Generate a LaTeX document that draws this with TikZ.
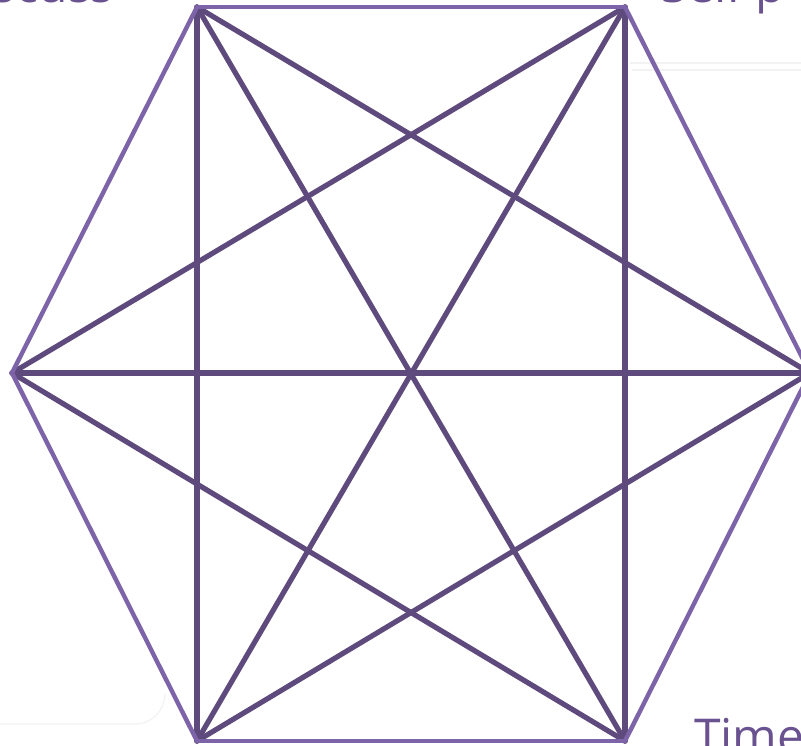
\documentclass[tikz,border=0pt]{standalone}
\usepackage{fontspec}
\setmainfont{Open Sans}
\begin{document}
\begin{tikzpicture}[x=1pt,y=-1pt,
  outeredge/.style={draw=hexlight,line width=4.4pt,line cap=round},
  inneredge/.style={draw=hexdark,line width=5.2pt,line cap=round},
  lbl/.style={text=labelc,font=\fontsize{48}{48}\selectfont,inner sep=0pt},
  faint/.style={draw=black!5,line width=1.2pt}]
\definecolor{hexlight}{HTML}{7D63A8}
\definecolor{hexdark}{HTML}{5E4A7C}
\definecolor{labelc}{HTML}{6A5290}
\useasboundingbox (0,0) rectangle (801,745);
\fill[white] (0,0) rectangle (801,745);
% faint background traces
\draw[faint] (630,63) -- (801,63);
\draw[faint] (632,70) -- (801,70);
\draw[faint] (0,724) -- (135,724) arc[start angle=90,end angle=0,radius=30];
% vertices
\coordinate (TL) at (197,7);
\coordinate (TR) at (625,7);
\coordinate (R) at (810,373);
\coordinate (BR) at (625,741);
\coordinate (BL) at (197,741);
\coordinate (L) at (12,373);
% inner chords
\draw[inneredge] (TL) -- (BL);
\draw[inneredge] (TR) -- (BR);
\draw[inneredge] (L) -- (R);
\draw[inneredge] (TL) -- (BR);
\draw[inneredge] (TR) -- (BL);
\draw[inneredge] (TL) -- (R);
\draw[inneredge] (TR) -- (L);
\draw[inneredge] (BL) -- (R);
\draw[inneredge] (BR) -- (L);
% hexagon outline
\draw[outeredge] (TL) -- (TR);
\draw[outeredge] (TR) -- (R);
\draw[outeredge] (R) -- (BR);
\draw[outeredge] (BR) -- (BL);
\draw[outeredge] (BL) -- (L);
\draw[outeredge] (L) -- (TL);
% labels (clipped by the frame, as in the reference)
\node[lbl,anchor=base east] (discuss) at (114,2) {Discuss};
\node[lbl,anchor=base west] (selfp) at (661,2) {Self p};
\node[lbl,anchor=base west] (time) at (694,753) {Time};
\end{tikzpicture}
\end{document}
